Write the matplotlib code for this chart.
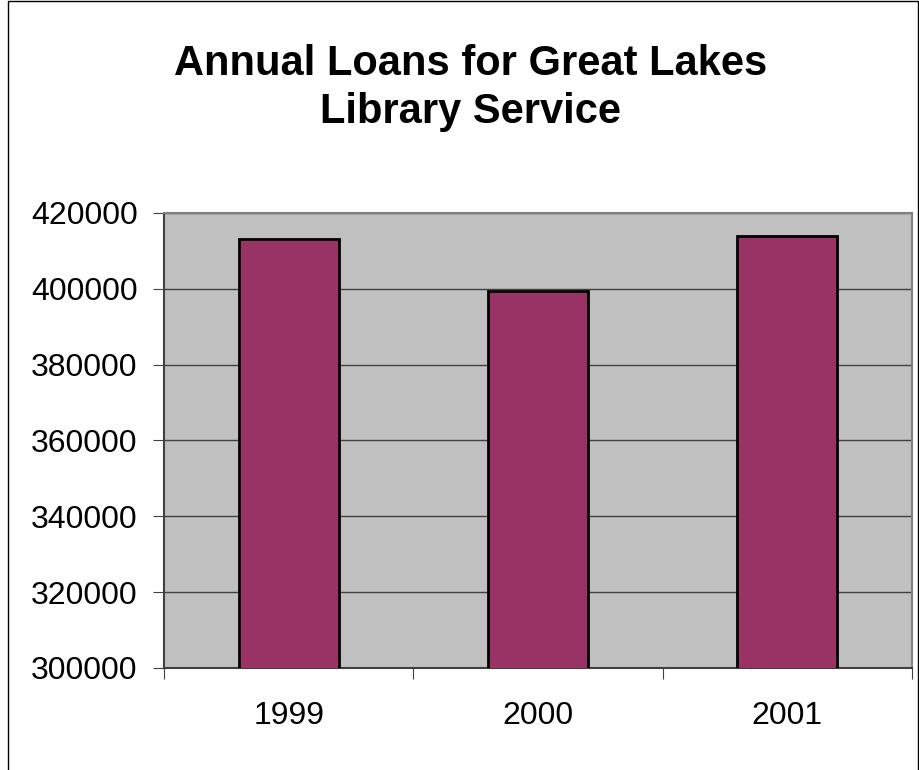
import matplotlib.pyplot as plt
import numpy as np
from matplotlib.patches import Rectangle

anos = ['1999', '2000', '2001']
emprestimos = [413200, 399500, 414000]
y_ticks = [300000, 320000, 340000, 360000, 380000, 400000, 420000]

plt.rcParams['font.family'] = ['Liberation Sans', 'DejaVu Sans']

fig = plt.figure(figsize=(9.2, 7.7), dpi=100)
fig.patches.append(Rectangle((8 / 920, -0.05), 910 / 920, 1.05 - 1 / 770,
                             transform=fig.transFigure, fill=False,
                             edgecolor='black', linewidth=1))

ax = fig.add_axes([164 / 920, 1 - 668 / 770, 748 / 920, 455 / 770])
ax.set_facecolor('#C0C0C0')

x = np.arange(len(anos))
ax.bar(x, emprestimos, width=0.4, color='#993366', edgecolor='black',
       linewidth=2, zorder=3)

ax.set_xlim(-0.5, 2.5)
ax.set_ylim(300000, 420000)
ax.set_yticks(y_ticks)
ax.set_yticklabels([str(v) for v in y_ticks], fontsize=23)
ax.yaxis.grid(True, color='#404040', linewidth=1, zorder=1)

ax.set_xticks([-0.5, 0.5, 1.5, 2.5])
ax.set_xticklabels([])
ax.set_xticks(x, minor=True)
ax.set_xticklabels(anos, minor=True, fontsize=23)
ax.tick_params(axis='x', which='minor', length=0, pad=24)
ax.tick_params(axis='x', which='major', length=8, direction='out', color='#404040')
ax.tick_params(axis='y', length=8, direction='out', color='#404040', pad=11)

for lado in ['top', 'right']:
    ax.spines[lado].set_color('#808080')
    ax.spines[lado].set_linewidth(1.5)
for lado in ['left', 'bottom']:
    ax.spines[lado].set_color('#404040')
    ax.spines[lado].set_linewidth(1.5)

fig.text(471 / 920, 1 - 88 / 770, 'Annual Loans for Great Lakes\nLibrary Service',
         ha='center', va='center', fontsize=30, fontweight='bold', linespacing=1.27)

fig.savefig('out.png', dpi=100)
